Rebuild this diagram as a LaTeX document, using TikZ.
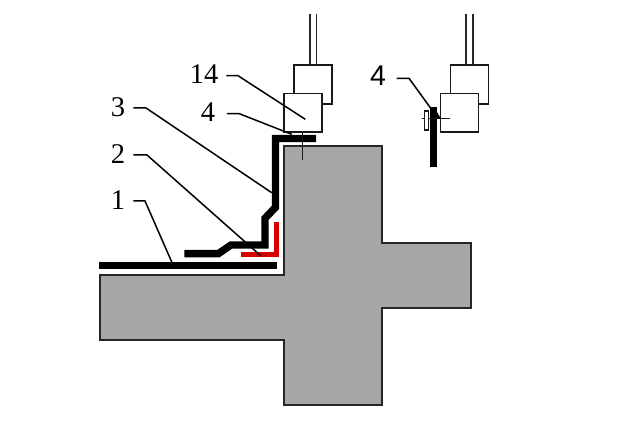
\documentclass[tikz,border=0pt]{standalone}
\usepackage{fontspec}
\setmainfont{Liberation Serif}
\setsansfont{Liberation Sans}
\tikzset{
  label num/.style={inner ysep=0pt, inner xsep=8pt, font=\fontsize{28.5}{28.5}\selectfont},
  leader/.style={line width=1.5pt, black},
  head box/.style={draw=black!90, line width=1.6pt, fill=white, minimum width=38pt, minimum height=38.6pt, inner sep=0pt, outer sep=0pt},
  wire/.style={line width=1.6pt, black!85},
  strip/.style={line width=7.4pt, black, miter limit=10},
  liner/.style={line width=5pt, red!85!black},
  pin/.style={line width=1.5pt, black!90}
}
\begin{document}
\begin{tikzpicture}[x=1pt, y=-1pt]
    \useasboundingbox (0,0) rectangle (640,427);
    % part
    \fill[white] (0,0) rectangle (640,427);
    \draw[fill=black!35, draw=black!85, line width=1.6pt] (100,275) -- (284,275) -- (284,146) -- (382,146) -- (382,243) -- (471,243)
      -- (471,308) -- (382,308) -- (382,405) -- (284,405) -- (284,340) -- (100,340) -- cycle;
    % strips
    \coordinate (S1a) at (99,265.8);
    \coordinate (S1b) at (277,265.8);
    \draw[strip] (S1a) -- (S1b);
    \draw[liner] (240.7,255) -- (276.7,255) -- (276.7,222.3);
    \draw[strip] (184.3,253.7) -- (218.3,253.7) -- (231,245) -- (265,245) -- (265,218.3) -- (275.5,207.3) -- (275.5,138.5) -- (316,138.5);
    % left head
    \node[head box] (boxA) at (312.7,84.5) {};
    \node[head box] (boxB) at (303,113) {};
    \coordinate (wireA1) at (309.7,14);
    \coordinate (wireA2) at (316.3,14);
    \draw[wire] (wireA1) -- (wireA1 |- boxA.north);
    \draw[wire] (wireA2) -- (wireA2 |- boxA.north);
    \coordinate (pinA) at (302.7,160);
    \draw[pin] (pinA) -- (pinA |- boxB.south);
    % right head
    \node[head box] (boxC) at (469.3,84.5) {};
    \node[head box] (boxD) at (459.5,113) {};
    \coordinate (wireC1) at (466,14);
    \coordinate (wireC2) at (472.7,14);
    \draw[wire] (wireC1) -- (wireC1 |- boxC.north);
    \draw[wire] (wireC2) -- (wireC2 |- boxC.north);
    \draw[strip] (433.5,106.7) -- (433.5,166.7);
    \coordinate (pinD) at (450,118.7);
    \draw[pin] (421.5,118.7) -- (pinD);
    \draw[pin, fill=white] (424.5,111) rectangle (428.3,130);
    \fill[black] (437,112) -- (441,118.7) -- (437,119) -- cycle;
    % labels
    \node[label num] (lab1) at (118,200) {1};
    \node[label num] (lab2) at (118,154) {2};
    \node[label num] (lab3) at (118,107) {3};
    \node[label num] (lab14) at (204,74) {14};
    \node[label num, inner xsep=11.5pt] (lab4) at (208,112) {4};
    \node[label num, inner xsep=10.5pt, font=\sffamily\fontsize{28.5}{28.5}\selectfont] (lab4r) at (378,76) {4};
    \coordinate (bend1) at (145,201);
    \coordinate (bend2) at (147,155);
    \coordinate (bend3) at (146,108);
    \coordinate (bend14) at (238,75.7);
    \coordinate (bend4) at (239.3,113.7);
    \coordinate (bend4r) at (409,78.3);
    \coordinate (end1) at (172.3,263.3);
    \coordinate (end2) at (261,256);
    \coordinate (end3) at (271.7,192.7);
    \coordinate (end14) at (305.3,119.3);
    \coordinate (end4) at (291.7,134.3);
    \coordinate (end4r) at (437.3,117.3);
    \draw[leader] (lab1.east |- bend1) -- (bend1) -- (end1);
    \draw[leader] (lab2.east |- bend2) -- (bend2) -- (end2);
    \draw[leader] (lab3.east |- bend3) -- (bend3) -- (end3);
    \draw[leader] (lab14.east |- bend14) -- (bend14) -- (end14);
    \draw[leader] (lab4.east |- bend4) -- (bend4) -- (end4);
    \draw[leader] (lab4r.east |- bend4r) -- (bend4r) -- (end4r);
\end{tikzpicture}
\end{document}
